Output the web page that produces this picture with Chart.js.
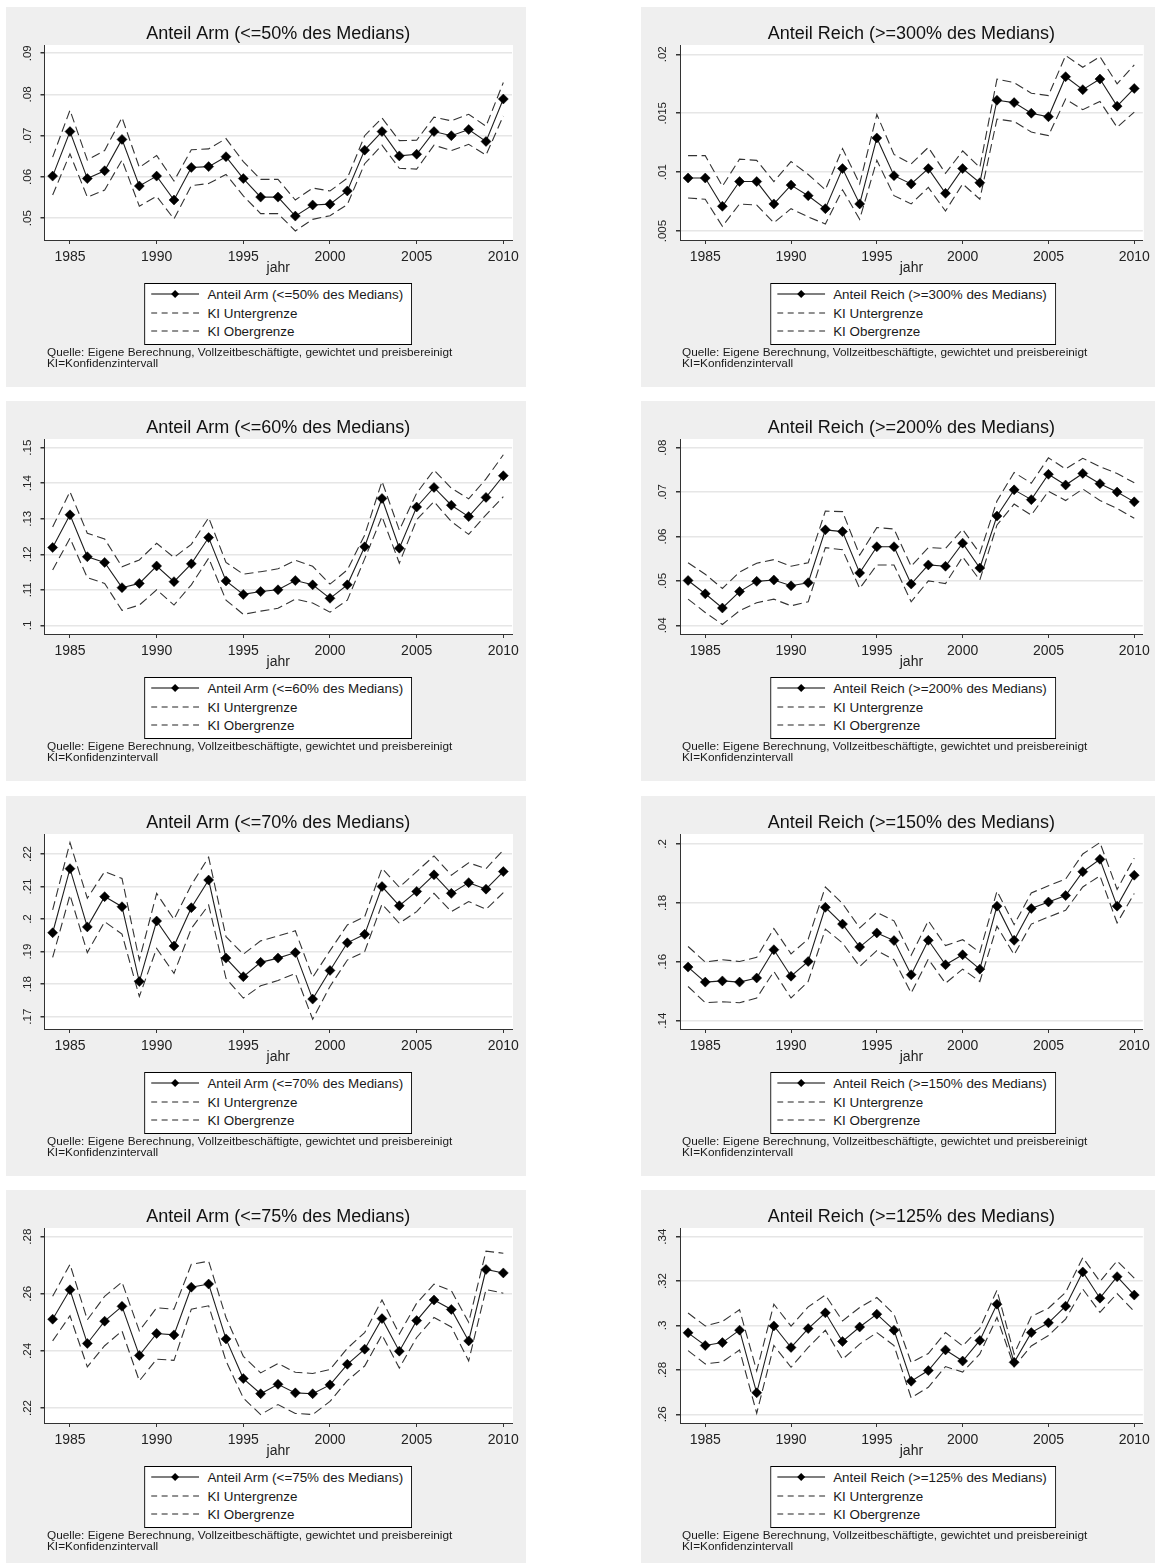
<!DOCTYPE html>
<html>
<head>
<meta charset="utf-8">
<script src="https://cdn.jsdelivr.net/npm/chart.js@4.4.1/dist/chart.umd.min.js"></script>
<style>
  body { margin: 0; background: #fff; font-family: "Liberation Sans", Arial, sans-serif; }
  #page { position: relative; width: 1155px; height: 1563px; overflow: hidden; }
  .panel { position: absolute; background: #efefef; height: 380px; }
  .panel canvas { position: absolute; left: 0; top: 0; }
  .legend { position: absolute; top: 276px; transform: translateX(-50%); background: #fff;
            border: 1px solid #000; padding: 2px 8px 2px 6px; white-space: nowrap; }
  .legend div { height: 18.5px; line-height: 18.5px; font-size: 13.4px; color: #1a1a1a; }
  .legend svg { vertical-align: middle; margin-right: 8px; position: relative; top: -1px; }
  .note { position: absolute; left: 41px; top: 340px; font-size: 11.8px; line-height: 11px; color: #1a1a1a; }
</style>
</head>
<body>
<div id="page"></div>
<script>
const years = [1984, 1985, 1986, 1987, 1988, 1989, 1990, 1991, 1992, 1993, 1994, 1995, 1996, 1997,
  1998, 1999, 2000, 2001, 2002, 2003, 2004, 2005, 2006, 2007, 2008, 2009, 2010];
const xTicks = [1985, 1990, 1995, 2000, 2005, 2010];

// Anteil Arm (<=50%)
const arm50 = [.0602, .0710, .0596, .0615, .0691, .0578, .0602, .0544, .0623, .0625, .0649, .0596, .0551, .0551,
  .0505, .0532, .0534, .0566, .0665, .0710, .0651, .0655, .0710, .0700, .0715, .0686, .0789];
const arm50Lo = [.0556, .0656, .0551, .0568, .0641, .0529, .0553, .0498, .0579, .0584, .0606, .0554, .0511, .0511,
  .0469, .0497, .0506, .0533, .0632, .0677, .0621, .0619, .0677, .0664, .0679, .0653, .0748];
const arm50Hi = [.0648, .0762, .0641, .0664, .0744, .0623, .0652, .0590, .0666, .0668, .0693, .0637, .0594, .0594,
  .0544, .0573, .0566, .0597, .0700, .0743, .0688, .0689, .0745, .0736, .0752, .0723, .0829];
const arm50Ticks = [.05, .06, .07, .08, .09];
const arm50Labels = ['.05', '.06', '.07', '.08', '.09'];

// Anteil Reich (>=300%)
const reich300 = [.0095, .0095, .0071, .0092, .0092, .0073, .0089, .0080, .0069, .0103, .0073, .0129, .0097, .0090,
  .0103, .0082, .0103, .0091, .0161, .0159, .0150, .0147, .0181, .0170, .0179, .0156, .0171];
const reich300Lo = [.0078, .0077, .0054, .0073, .0072, .0057, .0069, .0062, .0056, .0085, .0060, .0110, .0080, .0073,
  .0087, .0067, .0090, .0077, .0145, .0143, .0134, .0131, .0162, .0153, .0160, .0138, .0151];
const reich300Hi = [.0114, .0114, .0088, .0111, .0110, .0092, .0109, .0098, .0085, .0120, .0090, .0149, .0115, .0107,
  .0121, .0099, .0118, .0104, .0179, .0176, .0167, .0165, .0199, .0189, .0198, .0175, .0191];
const reich300Ticks = [.005, .01, .015, .02];
const reich300Labels = ['.005', '.01', '.015', '.02'];

// Anteil Arm (<=60%)
const arm60 = [.1219, .1311, .1193, .1177, .1106, .1118, .1167, .1123, .1173, .1247, .1125, .1087, .1095, .1100,
  .1126, .1114, .1076, .1114, .1221, .1357, .1217, .1333, .1388, .1338, .1306, .1360, .1421];
const arm60Lo = [.1156, .1245, .1134, .1118, .1042, .1057, .1100, .1057, .1114, .1189, .1071, .1031, .1040, .1048,
  .1074, .1063, .1037, .1071, .1187, .1306, .1175, .1297, .1348, .1292, .1256, .1311, .1362];
const arm60Hi = [.1277, .1376, .1259, .1243, .1165, .1184, .1231, .1191, .1228, .1303, .1177, .1144, .1151, .1159,
  .1183, .1166, .1116, .1156, .1254, .1405, .1268, .1372, .1437, .1386, .1356, .1412, .1480];
const arm60Ticks = [.1, .11, .12, .13, .14, .15];
const arm60Labels = ['.1', '.11', '.12', '.13', '.14', '.15'];

// Anteil Reich (>=200%)
const reich200 = [.0501, .0471, .0439, .0476, .0499, .0502, .0489, .0496, .0615, .0611, .0518, .0577, .0577, .0493,
  .0536, .0533, .0585, .0529, .0646, .0705, .0683, .0740, .0716, .0742, .0719, .0700, .0678];
const reich200Lo = [.0459, .0429, .0402, .0433, .0451, .0459, .0444, .0453, .0575, .0570, .0483, .0536, .0536, .0453,
  .0500, .0494, .0554, .0502, .0626, .0673, .0648, .0702, .0681, .0707, .0681, .0663, .0641];
const reich200Hi = [.0541, .0515, .0483, .0520, .0540, .0548, .0533, .0541, .0657, .0656, .0558, .0620, .0617, .0533,
  .0575, .0573, .0616, .0562, .0680, .0744, .0720, .0777, .0752, .0776, .0757, .0742, .0721];
const reich200Ticks = [.04, .05, .06, .07, .08];
const reich200Labels = ['.04', '.05', '.06', '.07', '.08'];

// Anteil Arm (<=70%)
const arm70 = [.1958, .2155, .1976, .2069, .2038, .1808, .1994, .1917, .2035, .2120, .1880, .1823, .1867, .1880,
  .1897, .1754, .1842, .1927, .1953, .2100, .2041, .2085, .2136, .2079, .2112, .2092, .2146];
const arm70Lo = [.1882, .2074, .1897, .1992, .1954, .1762, .1910, .1833, .1971, .2043, .1818, .1757, .1795, .1811,
  .1833, .1692, .1793, .1874, .1900, .2046, .1987, .2023, .2079, .2023, .2054, .2030, .2081];
const arm70Hi = [.2028, .2235, .2064, .2146, .2125, .1874, .2079, .1999, .2105, .2190, .1946, .1892, .1933, .1948,
  .1964, .1821, .1903, .1982, .2007, .2156, .2098, .2146, .2194, .2135, .2173, .2155, .2212];
const arm70Ticks = [.17, .18, .19, .2, .21, .22];
const arm70Labels = ['.17', '.18', '.19', '.2', '.21', '.22'];

// Anteil Reich (>=150%)
const reich150 = [.1582, .1531, .1535, .1531, .1545, .1641, .1551, .1601, .1785, .1728, .1650, .1698, .1672, .1556,
  .1673, .1590, .1624, .1575, .1789, .1673, .1781, .1803, .1825, .1906, .1948, .1789, .1894];
const reich150Lo = [.1516, .1461, .1464, .1461, .1477, .1567, .1477, .1533, .1711, .1664, .1584, .1638, .1607, .1494,
  .1609, .1527, .1575, .1533, .1721, .1624, .1728, .1752, .1775, .1854, .1892, .1732, .1832];
const reich150Hi = [.1652, .1599, .1607, .1601, .1615, .1713, .1627, .1677, .1854, .1798, .1715, .1768, .1739, .1622,
  .1739, .1655, .1675, .1632, .1840, .1726, .1834, .1858, .1881, .1966, .2005, .1846, .1952];
const reich150Ticks = [.14, .16, .18, .2];
const reich150Labels = ['.14', '.16', '.18', '.2'];

// Anteil Arm (<=75%)
const arm75 = [.2511, .2614, .2426, .2504, .2556, .2384, .2461, .2456, .2623, .2634, .2442, .2303, .2250, .2283,
  .2253, .2250, .2281, .2353, .2406, .2513, .2399, .2506, .2578, .2545, .2435, .2685, .2673];
const arm75Lo = [.2435, .2523, .2344, .2418, .2470, .2295, .2371, .2367, .2546, .2558, .2365, .2235, .2177, .2212,
  .2181, .2177, .2223, .2296, .2347, .2456, .2340, .2447, .2517, .2484, .2365, .2615, .2602];
const arm75Hi = [.2591, .2703, .2509, .2591, .2641, .2470, .2551, .2546, .2703, .2714, .2517, .2381, .2323, .2356,
  .2325, .2321, .2335, .2409, .2464, .2578, .2459, .2567, .2634, .2611, .2500, .2749, .2742];
const arm75Ticks = [.22, .24, .26, .28];
const arm75Labels = ['.22', '.24', '.26', '.28'];

// Anteil Reich (>=125%)
const reich125 = [.2967, .2910, .2923, .2979, .2697, .2998, .2901, .2986, .3057, .2928, .2993, .3051, .2979, .2749,
  .2797, .2890, .2840, .2933, .3096, .2834, .2968, .3012, .3087, .3241, .3123, .3220, .3137];
const reich125Lo = [.2887, .2827, .2836, .2890, .2605, .2910, .2812, .2901, .2979, .2848, .2916, .2968, .2910, .2674,
  .2722, .2815, .2790, .2872, .3036, .2815, .2908, .2955, .3029, .3164, .3059, .3144, .3063];
const reich125Hi = [.3056, .2998, .3018, .3071, .2796, .3096, .2997, .3084, .3137, .3021, .3081, .3126, .3051, .2833,
  .2874, .2968, .2908, .2987, .3159, .2871, .3041, .3078, .3149, .3306, .3198, .3291, .3213];
const reich125Ticks = [.26, .28, .3, .32, .34];
const reich125Labels = ['.26', '.28', '.3', '.32', '.34'];

const FONT = '"Liberation Sans", Arial, sans-serif';

const panels = [
  { title: 'Anteil Arm (<=50% des Medians)', mid: arm50, lo: arm50Lo, hi: arm50Hi, ticks: arm50Ticks, labels: arm50Labels, min: .0447, max: .0920, col: 0, row: 0 },
  { title: 'Anteil Reich (>=300% des Medians)', mid: reich300, lo: reich300Lo, hi: reich300Hi, ticks: reich300Ticks, labels: reich300Labels, min: .00424, max: .02079, col: 1, row: 0 },
  { title: 'Anteil Arm (<=60% des Medians)', mid: arm60, lo: arm60Lo, hi: arm60Hi, ticks: arm60Ticks, labels: arm60Labels, min: .09756, max: .15244, col: 0, row: 1 },
  { title: 'Anteil Reich (>=200% des Medians)', mid: reich200, lo: reich200Lo, hi: reich200Hi, ticks: reich200Ticks, labels: reich200Labels, min: .03805, max: .08195, col: 1, row: 1 },
  { title: 'Anteil Arm (<=70% des Medians)', mid: arm70, lo: arm70Lo, hi: arm70Hi, ticks: arm70Ticks, labels: arm70Labels, min: .16621, max: .22615, col: 0, row: 2 },
  { title: 'Anteil Reich (>=150% des Medians)', mid: reich150, lo: reich150Lo, hi: reich150Hi, ticks: reich150Ticks, labels: reich150Labels, min: .13717, max: .2034, col: 1, row: 2 },
  { title: 'Anteil Arm (<=75% des Medians)', mid: arm75, lo: arm75Lo, hi: arm75Hi, ticks: arm75Ticks, labels: arm75Labels, min: .21475, max: .28303, col: 0, row: 3 },
  { title: 'Anteil Reich (>=125% des Medians)', mid: reich125, lo: reich125Lo, hi: reich125Hi, ticks: reich125Ticks, labels: reich125Labels, min: .2561, max: .3439, col: 1, row: 3 },
];

const colX = [6, 641];
const colW = [520, 514];
const rowY = [7, 401, 796, 1190];

// white plot region, title and rotated y labels (Stata look)
const stataDecor = {
  id: 'stataDecor',
  beforeDraw(chart) {
    const { ctx, chartArea } = chart;
    ctx.save();
    ctx.fillStyle = '#fff';
    ctx.fillRect(chartArea.left, chartArea.top, chartArea.right - chartArea.left + 1, chartArea.bottom - chartArea.top);
    ctx.restore();
  },
  afterDraw(chart, args, opts) {
    const { ctx, chartArea } = chart;
    const yScale = chart.scales.y;
    ctx.save();
    ctx.fillStyle = '#111';
    ctx.font = '18px ' + FONT;
    ctx.textAlign = 'center';
    ctx.textBaseline = 'middle';
    ctx.fillText(opts.title, (chartArea.left + chartArea.right) / 2, 27);

    ctx.fillStyle = '#222';
    ctx.font = '11.5px ' + FONT;
    opts.ticks.forEach((v, i) => {
      const py = yScale.getPixelForValue(v);
      ctx.save();
      ctx.translate(22, py);
      ctx.rotate(-Math.PI / 2);
      ctx.fillText(opts.labels[i], 0, 0);
      ctx.restore();
    });
    ctx.restore();
  }
};

function legendSample(solid) {
  if (solid) {
    return '<svg width="48" height="10"><line x1="0" y1="5" x2="48" y2="5" stroke="#000" stroke-width="1.2"/>' +
      '<polygon points="24,1 28,5 24,9 20,5" fill="#000"/></svg>';
  }
  return '<svg width="48" height="10"><line x1="0" y1="5" x2="48" y2="5" stroke="#222" stroke-width="1.1" stroke-dasharray="6 4.5"/></svg>';
}

const page = document.getElementById('page');

panels.forEach((p) => {
  const w = colW[p.col];
  const div = document.createElement('div');
  div.className = 'panel';
  div.style.left = colX[p.col] + 'px';
  div.style.top = rowY[p.row] + 'px';
  div.style.width = w + 'px';
  const canvas = document.createElement('canvas');
  canvas.width = w;
  canvas.height = 380;
  div.appendChild(canvas);

  const padRight = p.col === 0 ? 14 : 9;
  const plotLeft = p.col === 0 ? 38.5 : 39;
  const plotCenter = (plotLeft + w - padRight) / 2;

  const legend = document.createElement('div');
  legend.className = 'legend';
  legend.style.left = plotCenter + 'px';
  legend.innerHTML =
    '<div>' + legendSample(true) + p.title.replace(/</g, '&lt;') + '</div>' +
    '<div>' + legendSample(false) + 'KI Untergrenze</div>' +
    '<div>' + legendSample(false) + 'KI Obergrenze</div>';
  div.appendChild(legend);

  const note = document.createElement('div');
  note.className = 'note';
  note.innerHTML = 'Quelle: Eigene Berechnung, Vollzeitbeschäftigte, gewichtet und preisbereinigt<br>KI=Konfidenzintervall';
  div.appendChild(note);
  page.appendChild(div);

  const pts = (arr) => years.map((yr, i) => ({ x: yr, y: arr[i] }));

  new Chart(canvas.getContext('2d'), {
    type: 'line',
    data: {
      datasets: [
        {
          label: p.title,
          data: pts(p.mid),
          borderColor: '#1e1e1e',
          borderWidth: 1.1,
          pointStyle: 'rectRot',
          pointRadius: 5,
          pointBackgroundColor: '#000',
          pointBorderColor: '#000',
          pointBorderWidth: 0.5,
          tension: 0,
        },
        {
          label: 'KI Untergrenze',
          data: pts(p.lo),
          borderColor: '#333',
          borderWidth: 1.1,
          borderDash: [9, 4.5],
          pointRadius: 0,
          tension: 0,
        },
        {
          label: 'KI Obergrenze',
          data: pts(p.hi),
          borderColor: '#333',
          borderWidth: 1.1,
          borderDash: [9, 4.5],
          pointRadius: 0,
          tension: 0,
        },
      ],
    },
    options: {
      responsive: false,
      animation: false,
      devicePixelRatio: 1,
      layout: { padding: { top: 38, right: padRight, bottom: 110, left: 0 } },
      plugins: {
        legend: { display: false },
        title: { display: false },
        tooltip: { enabled: false },
        stataDecor: { title: p.title, ticks: p.ticks, labels: p.labels },
      },
      scales: {
        x: {
          type: 'linear',
          min: 1983.53,
          max: 2010.5,
          afterBuildTicks: (scale) => { scale.ticks = xTicks.map((v) => ({ value: v })); },
          afterFit: (scale) => { scale.height = 37; },
          ticks: {
            callback: (v) => String(v),
            color: '#222',
            font: { family: FONT, size: 14 },
            padding: 5,
            maxRotation: 0,
            autoSkip: false,
          },
          grid: { display: true, drawOnChartArea: false, drawTicks: true, tickLength: 4, tickColor: '#333', color: '#333' },
          border: { display: true, color: '#333', width: 1 },
          title: { display: true, text: 'jahr', color: '#222', font: { family: FONT, size: 14 }, padding: { top: 0, bottom: 0 } },
        },
        y: {
          type: 'linear',
          min: p.min,
          max: p.max,
          afterBuildTicks: (scale) => { scale.ticks = p.ticks.map((v) => ({ value: v })); },
          afterFit: (scale) => { scale.width = plotLeft; },
          ticks: { display: false },
          grid: { color: '#e6e6e6', lineWidth: 1.5, drawTicks: true, tickLength: 4, tickColor: '#333' },
          border: { display: true, color: '#333', width: 1 },
        },
      },
    },
    plugins: [stataDecor],
  });
});
</script>
</body>
</html>
